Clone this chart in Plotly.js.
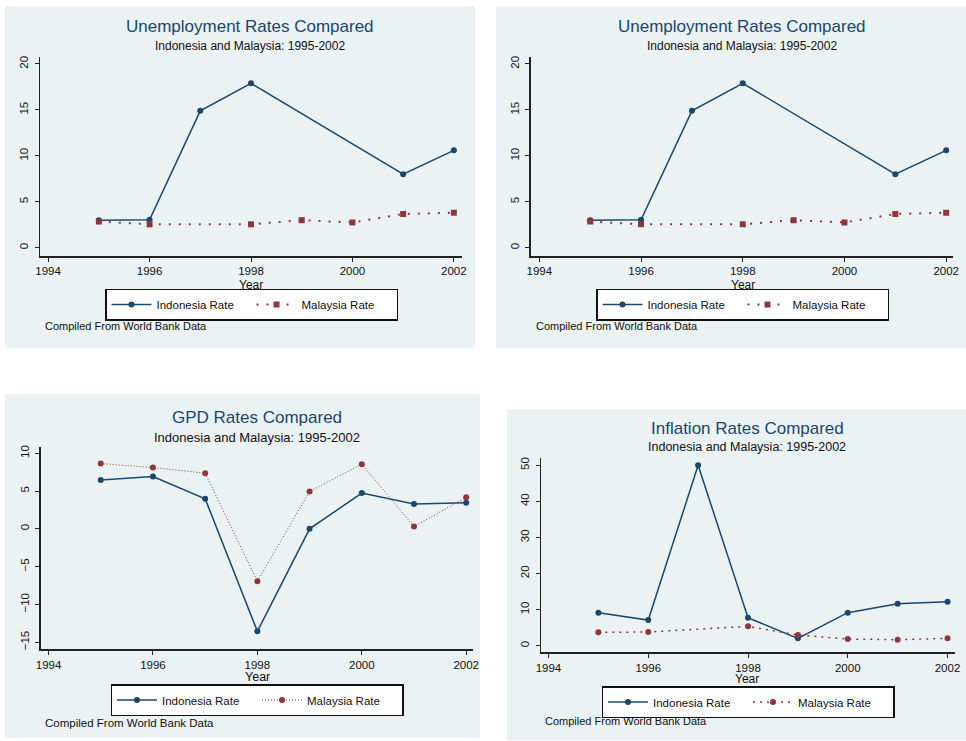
<!DOCTYPE html>
<html>
<head>
<meta charset="utf-8">
<script src="https://cdn.plot.ly/plotly-3.0.1.min.js"></script>
<style>html,body{margin:0;padding:0;background:#fff;}#chart{width:966px;height:741px;}</style>
</head>
<body>
<div id="chart"></div>
<script>
// ---------- data ----------
const years = [1995, 1996, 1997, 1998, 1999, 2000, 2001, 2002];
const unempIndonesia = [3.0, 3.05, 14.9, 17.9, null, null, 8.0, 10.6];
const unempMalaysia  = [2.85, 2.55, null, 2.55, 3.0, 2.75, 3.67, 3.81];
const gdpIndonesia   = [6.45, 6.93, 3.99, -13.55, 0.0, 4.74, 3.29, 3.46];
const gdpMalaysia    = [8.64, 8.11, 7.37, -6.93, 4.96, 8.55, 0.31, 4.17];
const inflIndonesia  = [9.15, 7.1, 50.0, 7.76, 2.03, 9.15, 11.6, 12.2];
const inflMalaysia   = [3.7, 3.8, null, 5.36, 2.96, 1.85, 1.66, 2.03];
const xTicks = [1994, 1996, 1998, 2000, 2002];
const unempTicks = [0, 5, 10, 15, 20];
const gdpTicks = [-15, -10, -5, 0, 5, 10];
const inflTicks = [0, 10, 20, 30, 40, 50];
const seriesNames = ["Indonesia Rate", "Malaysia Rate"];
const titles = ["Unemployment Rates Compared", "Unemployment Rates Compared", "GPD Rates Compared", "Inflation Rates Compared"];
const subtitle = "Indonesia and Malaysia: 1995-2002";
const xTitle = "Year";
const note = "Compiled From World Bank Data";

// ---------- helpers ----------
const W = 966, H = 741;
const px = v => v / W;
const py = v => 1 - v / H;
const NAVY = "#1a476f", MAROON = "#90353b", PANEL = "#eaf2f3";
const FONT = "Liberation Sans, Arial, sans-serif";

function xaxisDef(x0, x1, range, anchor) {
  return {
    domain: [px(x0), px(x1)], anchor: anchor, range: range,
    tickvals: xTicks, ticks: "outside", ticklen: 4, tickwidth: 1, tickcolor: "#222",
    showline: true, linecolor: "#222", linewidth: 1.5, showgrid: false, zeroline: false,
    tickfont: {family: FONT, size: 11.5, color: "#111"}, fixedrange: true
  };
}
function yaxisDef(y0, y1, range, ticks, anchor) {
  return {
    domain: [py(y1), py(y0)], anchor: anchor, range: range,
    tickvals: ticks, ticks: "outside", ticklen: 4, tickwidth: 1, tickcolor: "#222",
    tickangle: -90, ticklabelstandoff: 2,
    showline: true, linecolor: "#222", linewidth: 1.5,
    showgrid: true, gridcolor: PANEL, gridwidth: 1.2, zeroline: false,
    tickfont: {family: FONT, size: 11.5, color: "#111"}, fixedrange: true
  };
}

const traces = [];
function addPair(xa, ya, leg, indo, malay, malayDash, malayWidth, malaySym) {
  traces.push({
    x: years, y: indo, xaxis: xa, yaxis: ya, legend: leg, name: seriesNames[0],
    type: "scatter", mode: "lines+markers", connectgaps: true,
    line: {color: NAVY, width: 1.5}, marker: {color: NAVY, size: 6, symbol: "circle"}
  });
  traces.push({
    x: years, y: malay, xaxis: xa, yaxis: ya, legend: leg, name: seriesNames[1],
    type: "scatter", mode: "lines+markers", connectgaps: true,
    line: {color: MAROON, width: malayWidth, dash: malayDash},
    marker: {color: MAROON, size: 6, symbol: malaySym}
  });
}
addPair("x", "y", "legend", unempIndonesia, unempMalaysia, "2px,8px", 2, "square");
addPair("x2", "y2", "legend2", unempIndonesia, unempMalaysia, "2px,8px", 2, "square");
addPair("x3", "y3", "legend3", gdpIndonesia, gdpMalaysia, "1px,2px", 1, "circle");
addPair("x4", "y4", "legend4", inflIndonesia, inflMalaysia, "2px,5px", 1.5, "circle");

function legendDef(cx, cy) {
  return {
    orientation: "h", x: px(cx), y: py(cy), xanchor: "center", yanchor: "middle",
    bgcolor: "#fff", bordercolor: "#111", borderwidth: 1.5,
    font: {family: FONT, size: 11.5, color: "#111"},
    itemwidth: 40, entrywidth: 90, entrywidthmode: "pixels", tracegroupgap: 0,
    itemclick: false, itemdoubleclick: false
  };
}

const panels = [[5, 6, 475, 348], [496, 6, 966, 348], [5, 394, 480, 738], [507, 409, 966, 740]];
const shapes = panels.map(p => ({
  type: "rect", xref: "paper", yref: "paper", layer: "below",
  x0: px(p[0]), x1: px(p[2]), y0: py(p[3]), y1: py(p[1]),
  fillcolor: PANEL, line: {width: 0}
}));

function ann(text, x, y, size, color, xanchor) {
  return {text: text, x: px(x), y: py(y), xref: "paper", yref: "paper", showarrow: false,
    xanchor: xanchor || "center", yanchor: "middle", font: {family: FONT, size: size, color: color}};
}
const annotations = [
  ann(titles[0], 250, 26.5, 17, NAVY), ann(subtitle, 250, 46.5, 12, "#111"),
  ann(titles[1], 742, 26.5, 17, NAVY), ann(subtitle, 742, 46.5, 12, "#111"),
  ann(titles[2], 257, 417, 17, NAVY), ann(subtitle, 257, 437, 13, "#111"),
  ann(titles[3], 747, 428, 17, NAVY), ann(subtitle, 747, 447, 12.5, "#111"),
  ann(xTitle, 251, 284.5, 12, "#111"), ann(xTitle, 743, 284.5, 12, "#111"),
  ann(xTitle, 257, 677, 12.5, "#111"), ann(xTitle, 747, 679, 12, "#111"),
  ann(note, 43, 325.5, 11, "#111", "left"), ann(note, 534, 325.5, 11, "#111", "left"),
  ann(note, 43, 723, 11.5, "#111", "left"), ann(note, 543, 721, 11, "#111", "left")
];

const layout = {
  width: W, height: H, margin: {l: 0, r: 0, t: 0, b: 0},
  paper_bgcolor: "#fff", plot_bgcolor: "#fff",
  font: {family: FONT, color: "#111"},
  xaxis:  xaxisDef(40, 462, [1993.84, 2002.16], "y"),
  yaxis:  yaxisDef(57, 256, [-0.9, 20.76], unempTicks, "x"),
  xaxis2: xaxisDef(530.7, 953.3, [1993.83, 2002.14], "y2"),
  yaxis2: yaxisDef(57, 256, [-0.9, 20.76], unempTicks, "x2"),
  xaxis3: xaxisDef(40.7, 473, [1993.85, 2002.13], "y3"),
  yaxis3: yaxisDef(446.7, 649.3, [-15.93, 10.87], gdpTicks, "x3"),
  xaxis4: xaxisDef(541, 955, [1993.85, 2002.15], "y4"),
  yaxis4: yaxisDef(457.7, 652.3, [-1.83, 52.1], inflTicks, "x4"),
  legend: legendDef(251.5, 304.5), legend2: legendDef(742.5, 304.5),
  legend3: legendDef(257, 700), legend4: legendDef(748, 702),
  shapes: shapes, annotations: annotations
};

Plotly.newPlot("chart", traces, layout, {displayModeBar: false, staticPlot: true});
</script>
</body>
</html>
